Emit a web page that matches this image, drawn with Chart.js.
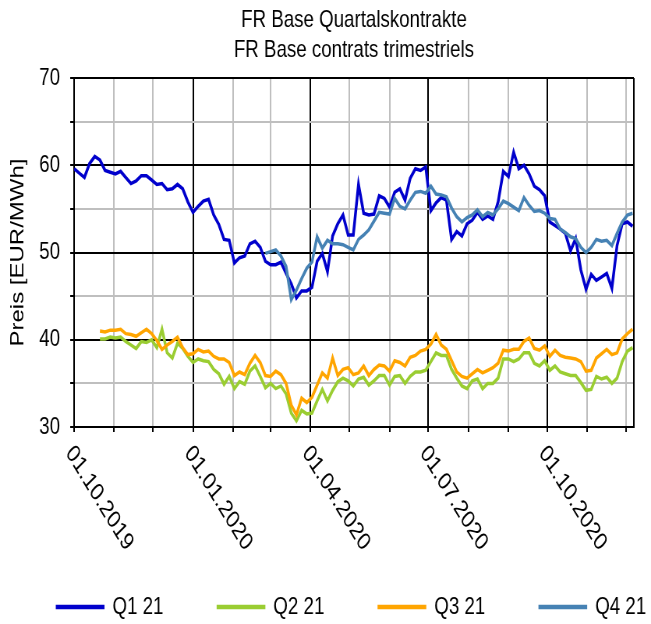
<!DOCTYPE html>
<html lang="de">
<head>
<meta charset="utf-8">
<title>FR Base Quartalskontrakte</title>
<script src="https://cdn.jsdelivr.net/npm/chart.js@4.4.1/dist/chart.umd.min.js"></script>
<style>
  body { margin: 0; background: #fff; }
  #grafico { width: 651px; height: 624px; }
</style>
</head>
<body>
<!-- Leinwand intern breiter, per CSS horizontal gestaucht wie im Original -->
<canvas id="grafico" width="835" height="624" style="width:651px;height:624px"></canvas>
<script>
const startDatum = "2019-10-01";
const schritt = 4;

const monatsAnfaenge = ["2019-10-01", "2019-11-01", "2019-12-01", "2020-01-01", "2020-02-01",
  "2020-03-01", "2020-04-01", "2020-05-01", "2020-06-01", "2020-07-01", "2020-08-01",
  "2020-09-01", "2020-10-01", "2020-11-01", "2020-12-01"];
const quartalsAnfaenge = ["2019-10-01", "2020-01-01", "2020-04-01", "2020-07-01", "2020-10-01"];
const quartalsLabels = ["01.10.2019", "01.01.2020", "01.04.2020", "01.07.2020", "01.10.2020"];
const achsenEnde = "2020-12-07";

const serien = ["Q1 21", "Q2 21", "Q3 21", "Q4 21"];
const farben = ["#0000cc", "#9acd32", "#ffa500", "#4682b4"];

const q1Beginn = "2019-10-01";
const q1Werte = [59.6, 59.1, 58.6, 60.2, 61.0, 60.6, 59.4, 59.2, 59.0, 59.3,
  58.6, 57.9, 58.2, 58.8, 58.8, 58.3, 57.8, 57.9, 57.2, 57.3,
  57.8, 57.3, 55.8, 54.6, 55.3, 55.9, 56.1, 54.3, 53.2, 51.5,
  51.4, 48.8, 49.4, 49.6, 51.0, 51.3, 50.6, 49.0, 48.6, 48.6,
  48.9, 47.6, 46.4, 44.8, 45.6, 45.6, 46.0, 49.0, 49.9, 47.8,
  51.9, 53.3, 54.3, 52.0, 52.0, 57.8, 54.5, 54.3, 54.4, 56.5,
  56.2, 55.2, 56.9, 57.3, 56.0, 58.5, 59.6, 59.4, 59.8, 54.8,
  55.7, 56.3, 56.0, 51.5, 52.4, 51.9, 53.3, 53.7, 54.6, 53.8,
  54.2, 53.8, 55.8, 59.3, 58.7, 61.5, 59.6, 60.0, 59.0, 57.6,
  57.2, 56.5, 53.5, 53.1, 52.7, 52.2, 50.2, 51.6, 48.0, 45.8,
  47.5, 46.8, 47.2, 47.6, 45.9, 50.8, 53.3, 53.5, 53.0];

const q2Beginn = "2019-10-21";
const q2Werte = [40.1, 40.1, 40.3, 40.2, 40.3, 39.8, 39.4, 39.0, 39.8, 39.7,
  40.0, 39.1, 41.2, 38.5, 37.9, 39.6, 39.0, 38.1, 37.4, 37.8,
  37.6, 37.5, 36.6, 36.1, 34.9, 35.8, 34.4, 35.2, 34.9, 36.4,
  37.0, 35.8, 34.5, 35.0, 34.4, 34.7, 33.8, 31.6, 30.7, 31.9,
  31.5, 31.6, 33.0, 34.3, 33.0, 34.2, 35.2, 35.6, 35.3, 34.7,
  35.5, 35.7, 34.8, 35.3, 35.9, 35.9, 34.8, 35.8, 35.9, 35.0,
  35.8, 36.3, 36.3, 36.5, 37.5, 38.5, 38.2, 38.2, 36.6, 35.6,
  34.7, 34.4, 35.3, 35.5, 34.4, 35.0, 35.0, 35.6, 37.8, 37.8,
  37.5, 37.8, 38.5, 38.5, 37.3, 37.0, 37.6, 36.5, 37.0, 36.3,
  36.1, 35.9, 35.9, 35.1, 34.2, 34.3, 35.8, 35.5, 35.7, 35.0,
  35.6, 37.5, 38.7, 39.1];

const q3Beginn = "2019-10-21";
const q3Werte = [41.0, 40.9, 41.1, 41.1, 41.2, 40.7, 40.6, 40.4, 40.8, 41.2,
  40.7, 39.9, 38.9, 39.4, 39.8, 40.3, 39.1, 38.3, 38.4, 38.9,
  38.6, 38.7, 38.1, 37.8, 37.8, 37.4, 35.9, 36.3, 36.0, 37.3,
  38.2, 37.4, 35.9, 35.8, 36.4, 36.0, 35.0, 32.5, 31.4, 33.3,
  32.8, 33.4, 34.8, 36.2, 35.6, 37.9, 35.9, 36.6, 36.8, 36.0,
  36.2, 37.0, 35.9, 36.6, 37.1, 37.0, 36.4, 37.6, 37.4, 37.0,
  38.0, 38.2, 38.7, 38.9, 39.5, 40.6, 39.4, 38.9, 37.6, 36.3,
  35.8, 35.6, 36.1, 36.6, 36.2, 36.5, 36.8, 37.3, 38.8, 38.7,
  38.9, 38.9, 39.8, 40.2, 39.0, 38.8, 39.3, 38.1, 38.8, 38.2,
  38.0, 37.9, 37.8, 37.5, 36.4, 36.5, 37.9, 38.4, 38.9, 38.3,
  38.5, 40.1, 40.7, 41.2];

const q4Beginn = "2020-02-26";
const q4Werte = [49.9, 50.1, 50.3, 49.6, 48.4, 44.6, 45.7, 47.0, 48.2, 48.9,
  51.8, 50.5, 51.4, 51.0, 51.0, 50.9, 50.6, 50.3, 51.5, 52.0,
  52.6, 53.6, 54.6, 54.5, 54.4, 56.2, 55.3, 55.0, 56.0, 56.9,
  57.0, 56.8, 57.6, 56.7, 56.6, 56.4, 55.1, 54.1, 53.5, 54.0,
  54.3, 54.9, 54.1, 54.6, 54.3, 55.0, 55.9, 55.6, 55.2, 54.8,
  56.3, 55.4, 54.7, 54.8, 54.5, 53.9, 53.8, 52.7, 52.3, 51.8,
  51.6, 50.6, 50.0, 50.6, 51.5, 51.3, 51.4, 50.8, 52.2, 53.5,
  54.3, 54.5];

const yTicks = [30, 40, 50, 60, 70];

function tag(iso) {
  return (Date.parse(iso) - Date.parse(startDatum)) / 86400000;
}

function punkte(beginn, werte) {
  const t0 = tag(beginn);
  return werte.map((v, i) => ({ x: t0 + i * schritt, y: v }));
}

const monatsTage = monatsAnfaenge.map(tag);
const quartalsTage = quartalsAnfaenge.map(tag);

const SCHRIFT = '"Liberation Sans", Arial, sans-serif';
Chart.defaults.font.family = SCHRIFT;
Chart.defaults.color = "#000";

// Datumslabels schräg nach unten rechts + Rahmen rechts
const achsenPlugin = {
  id: "achsenPlugin",
  afterDraw(chart) {
    const { ctx, chartArea } = chart;
    const x = chart.scales.x;
    ctx.save();
    ctx.strokeStyle = "#000";
    ctx.lineWidth = 2;
    ctx.beginPath();
    ctx.moveTo(chartArea.right, chartArea.top);
    ctx.lineTo(chartArea.right, chartArea.bottom);
    ctx.stroke();

    ctx.font = "25px " + SCHRIFT;
    ctx.fillStyle = "#000";
    ctx.textAlign = "left";
    ctx.textBaseline = "middle";
    quartalsTage.forEach((t, i) => {
      const px = x.getPixelForValue(t);
      ctx.save();
      ctx.translate(px - 6, chartArea.bottom + 22);
      ctx.rotate(52 * Math.PI / 180);
      ctx.fillText(quartalsLabels[i], 0, 0);
      ctx.restore();
    });
    ctx.restore();
  }
};

const werte = [q1Werte, q2Werte, q3Werte, q4Werte];
const beginne = [q1Beginn, q2Beginn, q3Beginn, q4Beginn];

const ctx = document.getElementById("grafico").getContext("2d");
const chart = new Chart(ctx, {
  type: "line",
  data: {
    datasets: serien.map((name, i) => ({
      label: name,
      data: punkte(beginne[i], werte[i]),
      borderColor: farben[i],
      backgroundColor: farben[i],
      borderWidth: 3.5,
      pointRadius: 0,
      tension: 0,
      order: serien.length - i
    }))
  },
  options: {
    responsive: false,
    animation: false,
    devicePixelRatio: 1,
    layout: { padding: { left: 0, right: -67, top: 0, bottom: -5 } },
    plugins: {
      title: {
        display: true,
        text: ["FR Base Quartalskontrakte", "FR Base contrats trimestriels"],
        fullSize: false,
        color: "#000",
        font: { size: 24, weight: "normal", lineHeight: 1.25 },
        padding: { top: 5, bottom: 13 }
      },
      legend: {
        position: "bottom",
        fullSize: true,
        labels: {
          boxWidth: 59,
          boxHeight: 1,
          padding: 70,
          color: "#000",
          font: { size: 24 },
          sort: (a, b) => a.datasetIndex - b.datasetIndex
        }
      },
      tooltip: { enabled: false }
    },
    scales: {
      x: {
        type: "linear",
        min: 0,
        max: tag(achsenEnde),
        afterBuildTicks(scale) {
          scale.ticks = monatsTage.map(v => ({ value: v }));
        },
        afterFit(scale) { scale.height = 98; },
        ticks: { display: false },
        grid: {
          color: c => quartalsTage.includes(c.tick.value) ? "#000" : "#bfbfbf",
          lineWidth: 2,
          tickLength: 5,
          tickColor: "#000"
        },
        border: { color: "#000", width: 2 }
      },
      y: {
        min: 30,
        max: 70,
        afterFit(scale) { scale.width = 95; },
        ticks: {
          stepSize: 5,
          padding: 13,
          font: { size: 24 },
          callback: v => yTicks.includes(v) ? v : ""
        },
        grid: {
          color: c => yTicks.includes(c.tick.value) ? "#000" : "#bfbfbf",
          lineWidth: 2,
          tickLength: 5,
          tickColor: "#000"
        },
        border: { color: "#000", width: 2 },
        title: {
          display: true,
          text: "Preis [EUR/MWh]",
          font: { size: 24 },
          padding: { top: 9, bottom: 0 }
        }
      },
      rechts: {
        type: "linear",
        position: "right",
        afterFit(scale) { scale.width = 89; },
        grid: { display: false },
        ticks: { display: false },
        border: { display: false }
      }
    }
  },
  plugins: [achsenPlugin]
});
</script>
</body>
</html>
